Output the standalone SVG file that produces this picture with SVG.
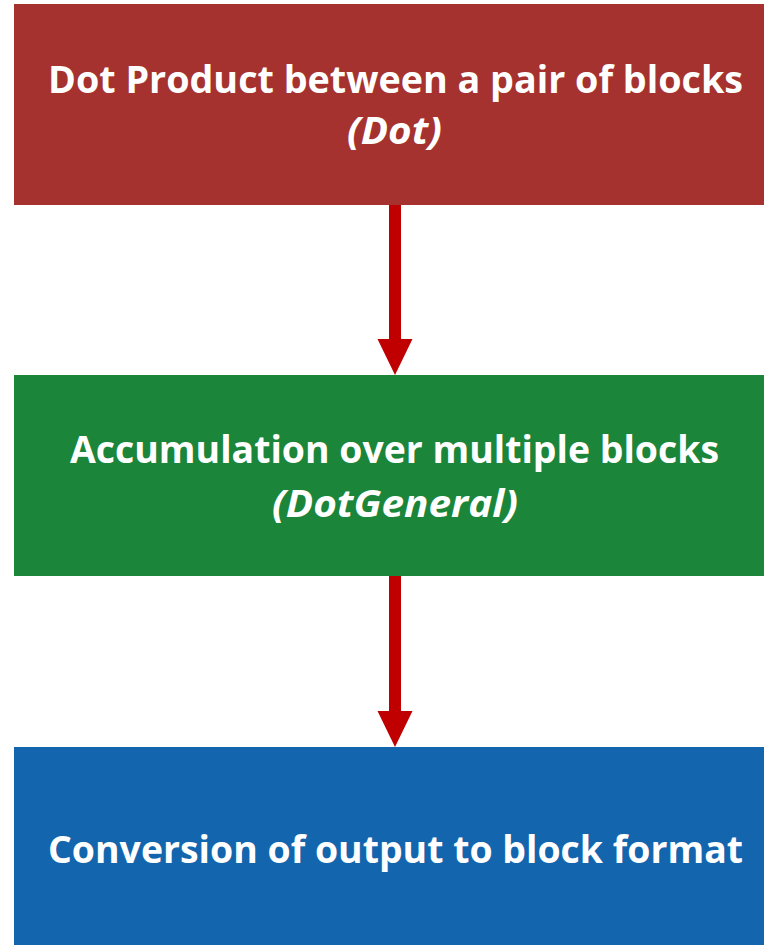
<svg xmlns="http://www.w3.org/2000/svg" width="764" height="945" viewBox="0 0 764 945">
  <style>
    .label { font-family: "Open Sans", "Liberation Sans", sans-serif; font-weight: 700; font-size: 38px; fill: #ffffff; text-anchor: middle; }
    .sub { font-style: italic; }
    .shaft { stroke: #c00000; stroke-width: 12; fill: none; }
    .head { fill: #c00000; }
  </style>
  <rect width="764" height="945" fill="#ffffff"/>

  <g id="dot">
    <rect x="14" y="4" width="750" height="201" fill="#a5322e"/>
    <text class="label" x="395.5" y="93" textLength="695" lengthAdjust="spacingAndGlyphs">Dot Product between a pair of blocks</text>
    <text class="label sub" x="394.5" y="144" textLength="95" lengthAdjust="spacingAndGlyphs">(Dot)</text>
  </g>

  <g id="dotgeneral">
    <rect x="14" y="375" width="750" height="201" fill="#1b853a"/>
    <text class="label" x="394.5" y="463" textLength="649" lengthAdjust="spacingAndGlyphs">Accumulation over multiple blocks</text>
    <text class="label sub" x="395" y="517" textLength="246" lengthAdjust="spacingAndGlyphs">(DotGeneral)</text>
  </g>

  <g id="conversion">
    <rect x="14" y="747" width="750" height="198" fill="#1366ae"/>
    <text class="label" x="395.5" y="863" textLength="695" lengthAdjust="spacingAndGlyphs">Conversion of output to block format</text>
  </g>

  <g id="connectors">
    <line class="shaft" x1="395" y1="205" x2="395" y2="340"/>
    <polygon class="head" points="377.5,339 412.5,339 395,375"/>
    <line class="shaft" x1="395" y1="576" x2="395" y2="712"/>
    <polygon class="head" points="377.5,711 412.5,711 395,747"/>
  </g>
</svg>
